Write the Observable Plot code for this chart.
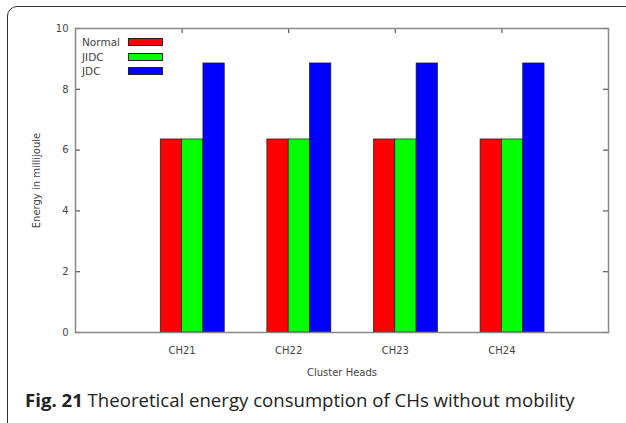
<!DOCTYPE html>
<html><head><meta charset="utf-8">
<script src="https://cdn.jsdelivr.net/npm/d3@7"></script>
<script src="https://cdn.jsdelivr.net/npm/@observablehq/plot@0.6"></script>
<style>
body{margin:0;background:#fff;width:626px;height:423px;overflow:hidden;position:relative;}
#box{position:absolute;left:7px;top:6px;width:700px;height:500px;border:1.3px solid #333;border-radius:10px;}
#chart{position:absolute;left:0;top:0;}
#legend{position:absolute;left:82px;top:35px;font:10.5px "DejaVu Sans";color:#444;}
.row{position:relative;height:14.5px;line-height:14px;}
.sw{position:absolute;left:46px;top:3px;width:33px;height:6px;border:0.7px solid #222;}
#caption{position:absolute;left:25px;top:387px;font:18.6px "Open Sans";color:#222;white-space:nowrap;}
</style></head><body>
<div id="box"></div>
<div id="chart"></div>
<div id="legend"></div>
<div id="caption"><b>Fig. 21</b> Theoretical energy consumption of CHs without mobility</div>
<script>
const categories = ["CH21", "CH22", "CH23", "CH24"];
const series = ["Normal", "JIDC", "JDC"];
const normal = [6.35, 6.35, 6.35, 6.35];
const jidc = [6.35, 6.35, 6.35, 6.35];
const jdc = [8.85, 8.85, 8.85, 8.85];
const yTicks = [0, 2, 4, 6, 8, 10];
const colors = ["#ff0000", "#00ff00", "#0000ff"];

const values = [normal, jidc, jdc];
const barW = 0.2;
const rows = [];
series.forEach((s, si) => {
  categories.forEach((c, ci) => {
    const x1 = ci + (si - 1) * barW;
    rows.push({series: s, cat: c, x1, x2: x1 + barW, value: values[si][ci], color: colors[si]});
  });
});
const catIdx = categories.map((c, i) => i);

const chart = Plot.plot({
  width: 626,
  height: 385,
  marginLeft: 75,
  marginRight: 18,
  marginTop: 28,
  marginBottom: 53,
  style: {fontFamily: "DejaVu Sans", fontSize: "10px", color: "#444", background: "transparent"},
  x: {domain: [-1, 4]},
  y: {domain: [0, 10]},
  marks: [
    Plot.rectY(rows, {x1: "x1", x2: "x2", y1: 0, y2: "value", fill: "color", stroke: "#1a1a1a", strokeWidth: 0.7}),
    Plot.tickY(yTicks, {y: d => d, insetRight: 528, stroke: "#555", strokeWidth: 1.2}),
    Plot.tickY(yTicks, {y: d => d, insetLeft: 528, stroke: "#555", strokeWidth: 1.2}),
    Plot.tickX(catIdx, {x: d => d, insetBottom: 299, stroke: "#555", strokeWidth: 1.2}),
    Plot.frame({stroke: "#888", strokeWidth: 1.5}),
    Plot.axisY({ticks: yTicks, tickSize: 0, tickPadding: 7, label: "Energy in millijoule", labelAnchor: "center", labelOffset: 43, labelArrow: "none"}),
    Plot.axisX({ticks: catIdx, tickFormat: i => categories[i], tickSize: 0, tickPadding: 14, label: "Cluster Heads", labelAnchor: "center", labelOffset: 43, labelArrow: "none"})
  ]
});
document.getElementById("chart").appendChild(chart);

const legend = document.getElementById("legend");
series.forEach((s, i) => {
  const r = document.createElement("div");
  r.className = "row";
  r.textContent = s;
  const sw = document.createElement("div");
  sw.className = "sw";
  sw.style.background = colors[i];
  r.appendChild(sw);
  legend.appendChild(r);
});
</script>
</body></html>
